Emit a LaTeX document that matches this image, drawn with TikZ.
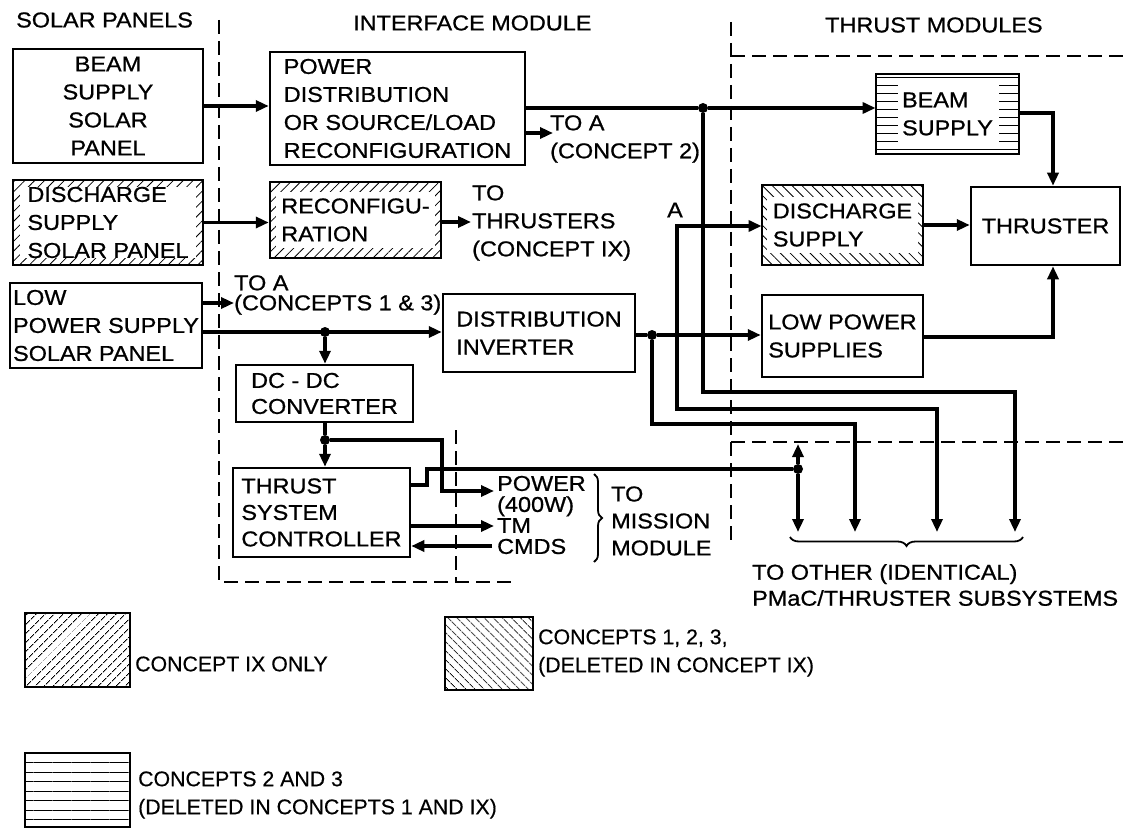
\documentclass[tikz,border=0pt]{standalone}
\usepackage{fontspec}
\setmainfont{Liberation Sans}[FakeStretch=1.09,FakeBold=0.8]
\newfontfamily\legendfont{Liberation Sans}[FakeBold=0.4]
\usetikzlibrary{arrows.meta,patterns.meta,decorations.pathreplacing,calc}
\newcommand\dgfont{\fontsize{21.5}{28}\selectfont}
\newcommand\lgfont{\legendfont\fontsize{21.3}{28}\selectfont}
\begin{document}
\begin{tikzpicture}[x=1pt,y=-1pt,
  box/.style={draw, line width=2.5pt, inner xsep=3pt, inner ysep=3pt, align=left, font=\dgfont},
  conn/.style={line width=3.3pt, -{Triangle[length=13pt,width=11pt]}},
  wire/.style={line width=3.3pt},
  bound/.style={line width=2pt, dash pattern=on 14pt off 7pt},
  jdot/.style={circle, fill, inner sep=0pt, minimum size=10pt},
  lbl/.style={font=\dgfont, inner sep=0pt, align=left, anchor=west},
  inset/.style n args={4}{path picture={\fill[white] ([shift={(#1,-#2)}]path picture bounding box.north west) rectangle ([shift={(-#3,#4)}]path picture bounding box.south east);}},
  hatchNE/.style={pattern={Lines[angle=45,distance=7pt,line width=0.8pt]}},
  hatchNW/.style={pattern={Lines[angle=-45,distance=7pt,line width=0.8pt]}},
  hatchH/.style={pattern={Lines[angle=0,distance=8pt,line width=0.8pt]}},
]
\useasboundingbox (0,0) rectangle (1127,829);

% headings
\node[lbl] (h1) at (16,20) {SOLAR PANELS};
\node[lbl] (h2) at (353,23) {INTERFACE MODULE};
\node[lbl] (h3) at (825,25) {THRUST MODULES};

% module boundaries
\draw[bound] (219,20) -- (219,582) -- (513,582);
\draw[bound] (456,430) -- (456,582);
\draw[bound] (731,22) -- (731,547);
\draw[bound] (731,56) -- (1127,56);
\draw[bound] (731,442) -- (1127,442);

% solar panels
\node[box, align=center, minimum width=190pt, minimum height=114pt] (sp1) at (108,106) {BEAM\\SUPPLY\\SOLAR\\PANEL};
\node[box, hatchNE, inset={7pt}{7pt}{7pt}{7pt}, minimum width=190pt, minimum height=85pt] (sp2) at (108,222.5) {DISCHARGE\\SUPPLY\\SOLAR PANEL};
\node[box, minimum width=192pt, minimum height=85pt] (sp3) at (106,325.5) {LOW\\POWER SUPPLY\\SOLAR PANEL};

% interface module
\node[box, minimum width=255pt, minimum height=113pt] (pd) at (397.5,108.5) {POWER\\DISTRIBUTION\\OR SOURCE/LOAD\\RECONFIGURATION};
\node[box, hatchNE, inset={6pt}{10pt}{6pt}{10pt}, minimum width=171pt, minimum height=76pt] (rc) at (355.5,220) {RECONFIGU-\\RATION};
\node[box, minimum width=192pt, minimum height=78pt] (di) at (539,333) {DISTRIBUTION\\INVERTER};
\node[box, minimum width=177pt, minimum height=57pt, font=\fontsize{21.5}{26}\selectfont] (dc) at (324.5,393.5) {DC - DC\\CONVERTER};
\node[box, minimum width=177pt, minimum height=89pt, font=\fontsize{21.5}{26.5}\selectfont] (tsc) at (321.5,512.5) {THRUST\\SYSTEM\\CONTROLLER};

% thrust module
\node[box, hatchH, inset={22pt}{5pt}{20pt}{5pt}, minimum width=143pt, minimum height=80pt] (bs) at (947.5,114) {BEAM\\SUPPLY};
\node[box, hatchNW, inset={5pt}{12pt}{5pt}{12pt}, minimum width=161pt, minimum height=80pt] (ds) at (842.5,225) {DISCHARGE\\SUPPLY};
\node[box, align=center, minimum width=149pt, minimum height=78pt] (th) at (1045.5,226) {THRUSTER};
\node[box, minimum width=161pt, minimum height=82pt] (lps) at (842.5,336) {LOW POWER\\SUPPLIES};

% connectors: solar panels to interface
\draw[conn] (sp1.east) -- (sp1.east -| pd.west);
\draw[conn] (sp2.east) -- (sp2.east -| rc.west);
\coordinate (toA13) at (234,303);
\draw[conn] (sp3.east |- toA13) -- (toA13);
\node[jdot] (j3) at (325,332) {};
\draw[conn] (sp3.east |- j3) -- (j3 -| di.west);
\draw[conn] (j3) -- (j3 |- dc.north);

% power distribution outputs
\node[jdot] (j1) at (703,108) {};
\draw[wire] (pd.east |- j1) -- (j1);
\draw[conn] (j1) -- (j1 -| bs.west);
\coordinate (toA2) at (553,133);
\draw[conn] (pd.east |- toA2) -- (toA2);
\coordinate (toT) at (471,222);
\draw[conn] (rc.east |- toT) -- (toT);
\coordinate (b4) at (1015,532);
\draw[conn] (j1) -- (703,392) -- (1015,392) -- (b4);

% A line
\coordinate (a) at (677,226);
\draw[conn, line cap=rect] (a) -- (a -| ds.west);
\coordinate (b3) at (937,532);
\draw[conn] (a) -- (677,409) -- (937,409) -- (b3);

% distribution inverter outputs
\node[jdot] (j6) at (652,335) {};
\draw[wire] (di.east |- j6) -- (j6);
\draw[conn] (j6) -- (j6 -| lps.west);
\coordinate (b2) at (855,532);
\draw[conn] (j6) -- (652,424) -- (855,424) -- (b2);

% DC-DC and controller
\node[jdot] (j4) at (325,440) {};
\draw[wire] (dc.south -| j4) -- (j4);
\draw[conn] (j4) -- (j4 |- tsc.north);
\coordinate (pw) at (494,491);
\draw[conn] (j4) -- (442,440) -- (442,491) -- (pw);
\coordinate (tm) at (494,526);
\draw[conn] (tsc.east |- tm) -- (tm);
\coordinate (cm) at (492,546);
\draw[conn] (cm) -- (cm -| tsc.east);
\node[jdot] (j5) at (798,469) {};
\coordinate (t1) at (427,485);
\draw[wire] (tsc.east |- t1) -- (t1) -- (t1 |- j5) -- (j5);
\coordinate (u5) at (798,444);
\draw[conn] (j5) -- (u5);
\coordinate (b1) at (798,532);
\draw[conn] (j5) -- (b1);

% thrust module internal
\coordinate (c1) at (1053,113);
\draw[conn] (bs.east |- c1) -- (c1) -- (c1 |- th.north);
\draw[conn] (ds.east) -- (ds.east -| th.west);
\coordinate (c2) at (1053,337);
\draw[conn] (lps.east |- c2) -- (c2) -- (c2 |- th.south);

% labels
\node[lbl] (l1) at (550,139) {TO A\\(CONCEPT 2)};
\node[lbl] (l2) at (472,223) {TO\\THRUSTERS\\(CONCEPT IX)};
\node[font=\dgfont, inner sep=0pt] (la) at (675,210) {A};
\node[lbl, font=\fontsize{21.5}{20}\selectfont] (l3) at (234,295) {TO A\\(CONCEPTS 1 \& 3)};
\node[lbl, font=\fontsize{21.5}{21}\selectfont] (l4) at (497,515) {POWER\\(400W)\\TM\\CMDS};
\node[lbl, font=\fontsize{21.5}{27}\selectfont] (l5) at (611,521) {TO\\MISSION\\MODULE};
\node[lbl, font=\fontsize{21.5}{26}\selectfont] (l6) at (752,585) {TO OTHER (IDENTICAL)\\PMaC/THRUSTER SUBSYSTEMS};

% braces
\draw[line width=1.8pt, decorate, decoration={brace, amplitude=8pt}] (594,474) -- (594,562);
\draw[line width=1.8pt, decorate, decoration={brace, amplitude=9pt}] (1023,537) -- (790,537);

% legend
\node[draw, line width=2.5pt, minimum width=105pt, minimum height=74pt, pattern={Lines[angle=45,distance=6.5pt,line width=0.8pt]}] (lg1) at (77.5,650) {};
\node[lbl, font=\lgfont] (lt1) at (135,664) {CONCEPT IX ONLY};
\node[draw, line width=2.5pt, minimum width=88pt, minimum height=73pt, pattern={Lines[angle=-45,distance=6.5pt,line width=0.8pt]}] (lg2) at (489,653.5) {};
\node[lbl, font=\lgfont] (lt2) at (538,653) {CONCEPTS 1, 2, 3,\\(DELETED IN CONCEPT IX)};
\node[draw, line width=2.5pt, minimum width=105pt, minimum height=74pt, pattern={Lines[angle=0,distance=9.5pt,line width=0.8pt]}] (lg3) at (77.5,790) {};
\node[lbl, font=\lgfont] (lt3) at (138,795) {CONCEPTS 2 AND 3\\(DELETED IN CONCEPTS 1 AND IX)};
\end{tikzpicture}
\end{document}
